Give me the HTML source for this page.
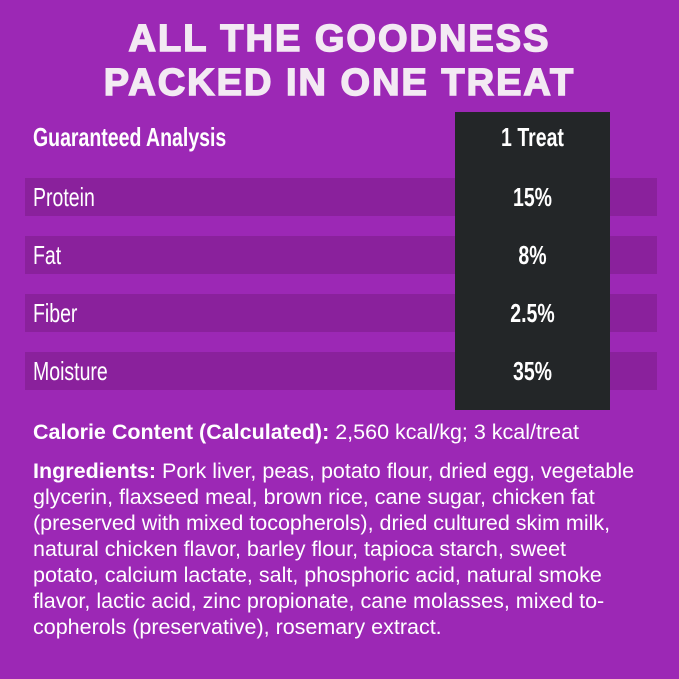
<!DOCTYPE html>
<html><head><style>
html,body{margin:0;padding:0}
body{width:679px;height:679px;background:#9c28b5;position:relative;overflow:hidden;font-family:"Liberation Sans",sans-serif;color:#fff}
.title{position:absolute;left:0;width:679px;text-align:center;font-weight:900;font-size:38px;letter-spacing:2px;color:#f3eaf3;-webkit-text-stroke:1.5px #f3eaf3}
.stripe{position:absolute;left:25px;width:632px;height:38px;background:#8a219c}
.dark{position:absolute;left:455px;top:112px;width:155px;height:298px;background:#232628}
.lab{position:absolute;left:33px;font-size:26px;line-height:38px;transform:scaleX(0.75);transform-origin:left;white-space:nowrap}
.val{position:absolute;left:455px;width:155px;text-align:center;font-size:26px;font-weight:bold;line-height:38px;transform:scaleX(0.75)}
.txt{position:absolute;left:33px;width:660px;font-size:21.5px;line-height:26px;white-space:nowrap}
</style></head><body>
<div class="title" style="top:18px">ALL THE GOODNESS</div>
<div class="title" style="top:62px">PACKED IN ONE TREAT</div>
<div class="stripe" style="top:178px"></div>
<div class="stripe" style="top:236px"></div>
<div class="stripe" style="top:294px"></div>
<div class="stripe" style="top:352px"></div>
<div class="dark"></div>
<div class="lab" style="top:118px;font-weight:bold">Guaranteed Analysis</div>
<div class="val" style="top:118px">1 Treat</div>
<div class="lab" style="top:178px">Protein</div><div class="val" style="top:178px">15%</div>
<div class="lab" style="top:236px">Fat</div><div class="val" style="top:236px">8%</div>
<div class="lab" style="top:294px">Fiber</div><div class="val" style="top:294px">2.5%</div>
<div class="lab" style="top:352px">Moisture</div><div class="val" style="top:352px">35%</div>
<div class="txt" style="top:419px"><b>Calorie Content (Calculated):</b> 2,560 kcal/kg; 3 kcal/treat</div>
<div class="txt" style="top:458px"><b>Ingredients:</b> Pork liver, peas, potato flour, dried egg, vegetable<br>glycerin, flaxseed meal, brown rice, cane sugar, chicken fat<br>(preserved with mixed tocopherols), dried cultured skim milk,<br>natural chicken flavor, barley flour, tapioca starch, sweet<br>potato, calcium lactate, salt, phosphoric acid, natural smoke<br>flavor, lactic acid, zinc propionate, cane molasses, mixed to-<br>copherols (preservative), rosemary extract.</div>
</body></html>
